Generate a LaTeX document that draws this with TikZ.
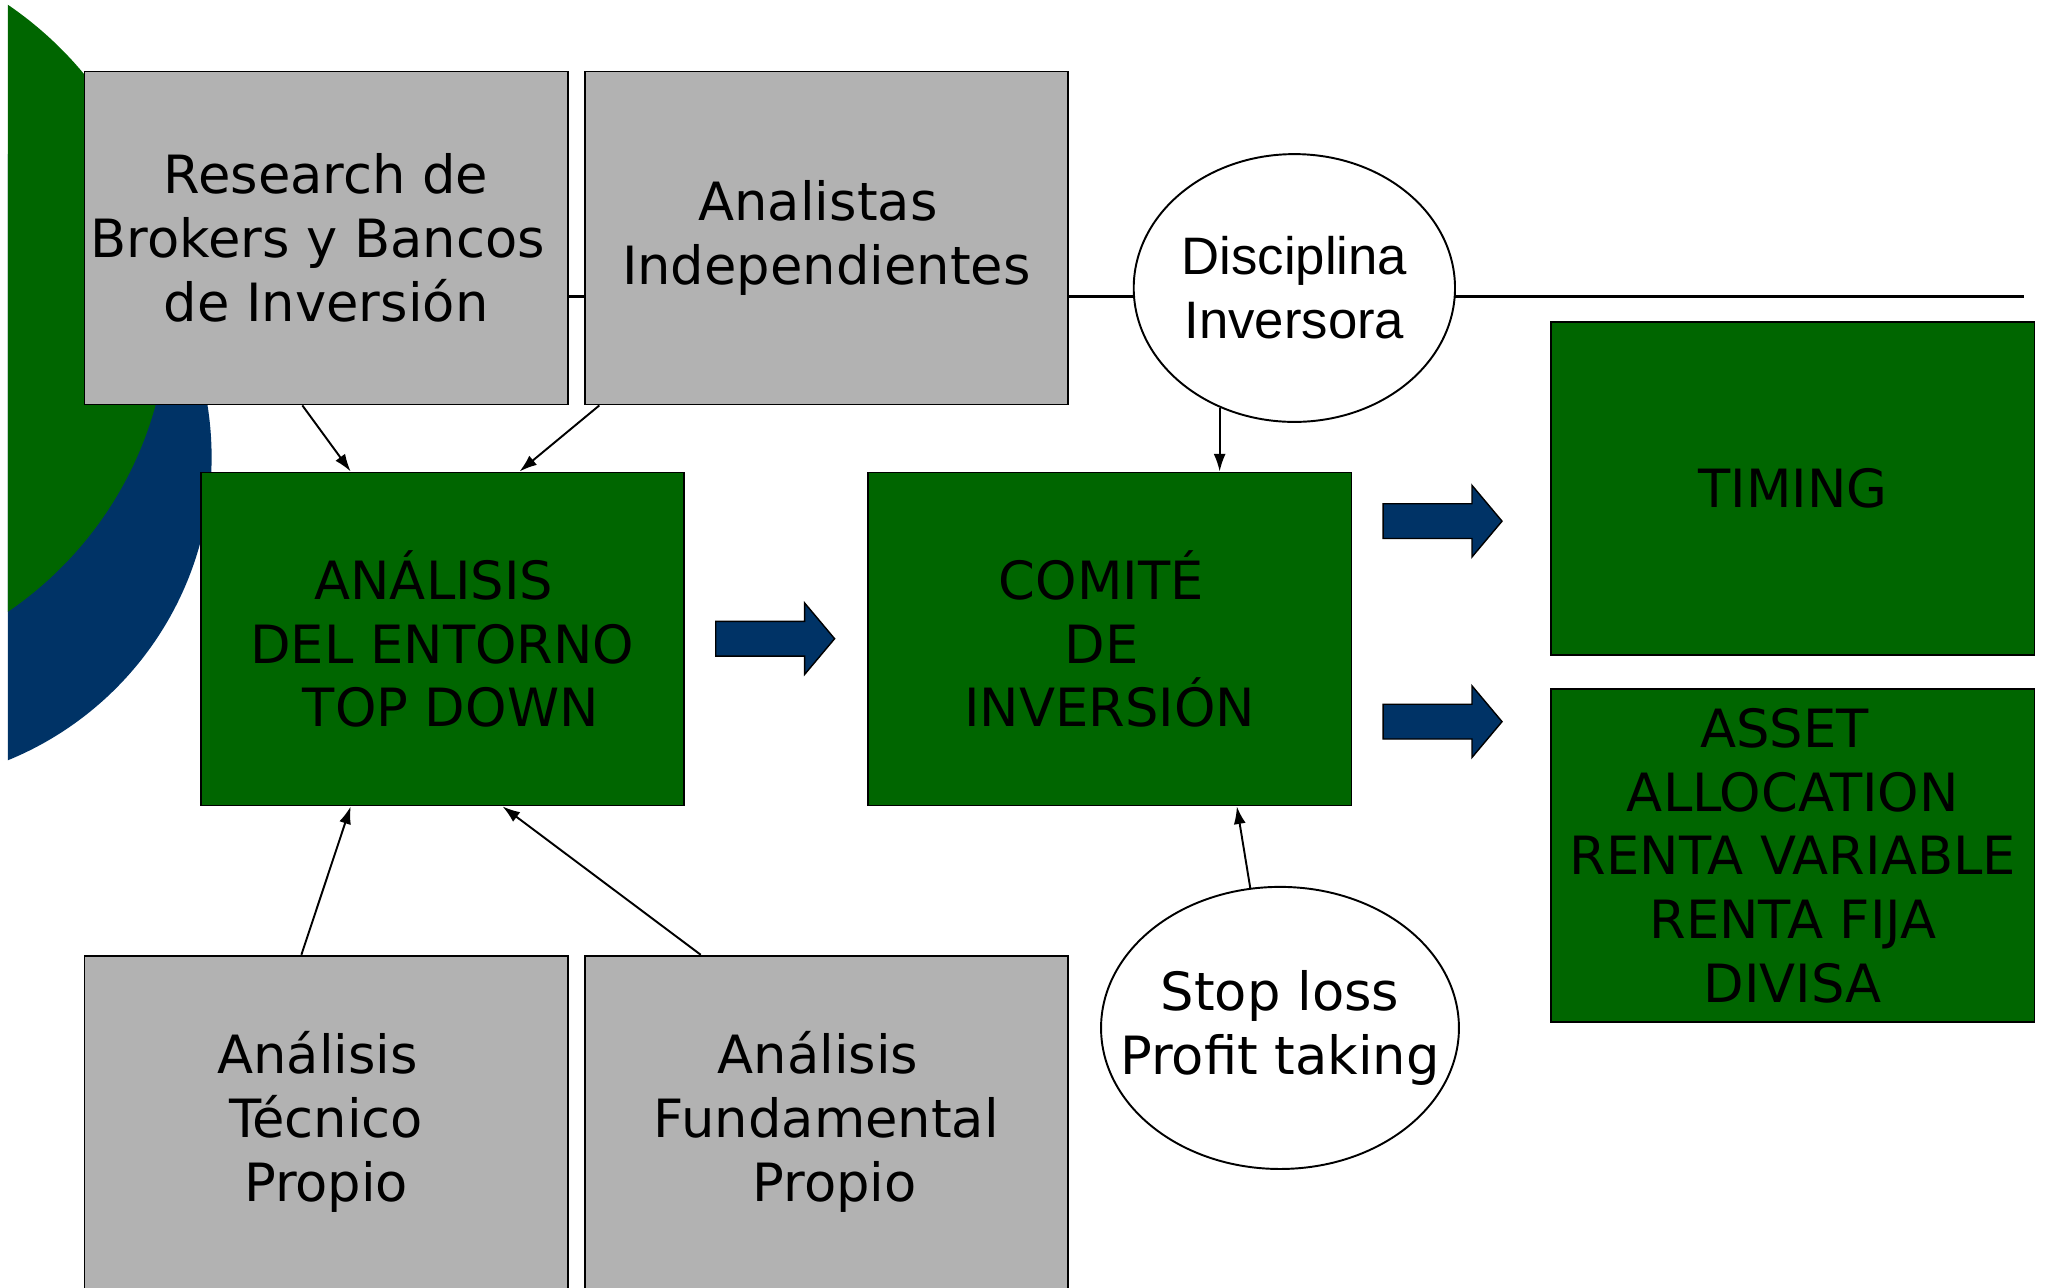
\documentclass[tikz,border=0pt]{standalone}
\usepackage{fontspec}
\setmainfont{DejaVu Sans}
\newfontfamily\arialfont{Liberation Sans}
\usepackage{tikz}
\usetikzlibrary{arrows.meta,calc,shapes.geometric}
\definecolor{fgreen}{RGB}{0,102,0}
\definecolor{fblue}{RGB}{0,51,102}
\definecolor{fgray}{RGB}{178,178,178}
\newcommand{\fsp}{\kern.318em}
\tikzset{
  fbox/.style={draw=black, line width=.5pt, align=center, minimum width=4.833cm, minimum height=3.331cm, inner sep=0pt, anchor=north west, font=\fontsize{15}{18.2}\selectfont},
  fboxgray/.style={fbox, fill=fgray},
  fboxgreen/.style={fbox, fill=fgreen},
  foval/.style={ellipse, draw=black, line width=.55pt, fill=white, align=center, inner xsep=-12pt, inner ysep=0pt, font=\fontsize{15}{18.2}\selectfont},
  farr/.style={-{Latex[length=5pt,width=3.4pt]}, line width=.55pt},
  fbig/.pic={\draw[fill=fblue, draw=black, line width=.4pt] (0,-13.3) -- (68,-13.3) -- (68,-27.4) -- (91,0) -- (68,27.4) -- (68,13.3) -- (0,13.3) -- cycle;}
}

\begin{document}
\begin{tikzpicture}[x=0.013061cm, y=-0.013061cm]
  \useasboundingbox (0,0) rectangle (1568,986);
  % logo circles
  \begin{scope}
    \clip (6,0) rectangle (1568,986);
    \fill[fblue] (-88.5,350) circle (3.272cm);
    \fill[fgreen] (-152,236) circle (3.670cm);
  \end{scope}
  \coordinate (railL) at (434,227);
  \coordinate (railR) at (1550,227);
  \draw[line width=.6pt] (railL) -- (railR);
  \node[fboxgray] (research) at (64,54) {Research de\\Brokers y Bancos\fsp\\de Inversión};
  \node[fboxgray] (analistas) at (447,54) {Analistas\fsp\\Independientes};
  \node[fboxgreen] (entorno) at (153,361) {ANÁLISIS\fsp\\DEL ENTORNO\\\fsp TOP DOWN};
  \node[fboxgreen] (comite) at (664,361) {COMITÉ\fsp\\DE\fsp\\INVERSIÓN};
  \node[fboxgreen] (timing) at (1187,246) {TIMING};
  \node[fboxgreen] (asset) at (1187,527) {ASSET\fsp\\ALLOCATION\\RENTA VARIABLE\\RENTA FIJA\\DIVISA};
  \node[fboxgray] (tecnico) at (64,731) {Análisis\fsp\\Técnico\\Propio};
  \node[fboxgray] (fundam) at (447,731) {Análisis\fsp\\Fundamental\\\fsp Propio};
  \node[foval, minimum width=3.213cm, minimum height=2.678cm, font=\arialfont\fontsize{15}{18.2}\selectfont] (disc) at (991,220.5) {Disciplina\\Inversora};
  \node[foval, minimum width=3.579cm, minimum height=2.821cm] (stop) at (980,787) {Stop loss\\Profit taking};
  % thin arrows
  \draw[farr] ($(research.south west)!.451!(research.south east)$) -- ($(entorno.north west)!.311!(entorno.north east)$);
  \draw[farr] ($(analistas.south west)!.032!(analistas.south east)$) -- ($(entorno.north west)!.659!(entorno.north east)$);
  \draw[farr] ($(tecnico.north west)!.449!(tecnico.north east)$) -- ($(entorno.south west)!.311!(entorno.south east)$);
  \draw[farr] ($(fundam.north west)!.241!(fundam.north east)$) -- ($(entorno.south west)!.624!(entorno.south east)$);
  \draw[farr] (disc.238) -- (disc.238 |- comite.north);
  \draw[farr] (stop.102) -- ($(comite.south west)!.762!(comite.south east)$);
  % block arrows
  \pic at (548,489) {fbig};
  \pic at (1059,399) {fbig};
  \pic at (1059,552.5) {fbig};
\end{tikzpicture}
\end{document}
